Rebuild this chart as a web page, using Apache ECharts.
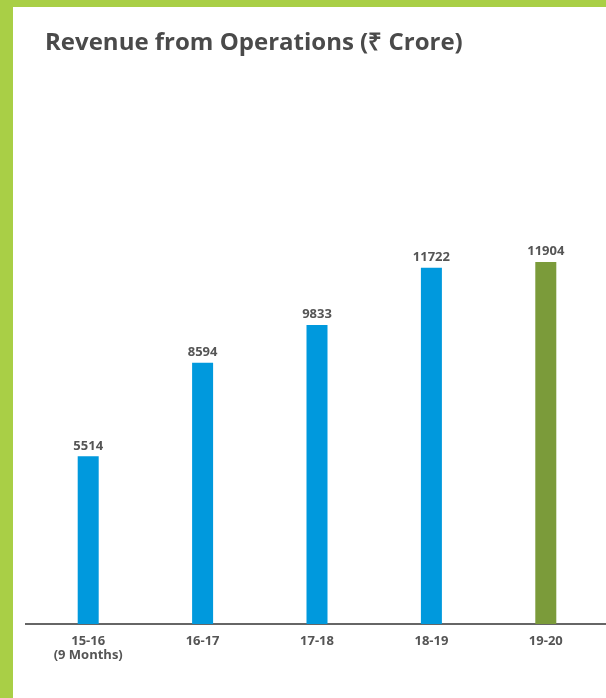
<!DOCTYPE html>
<html><head><meta charset="utf-8">
<script src="https://cdn.jsdelivr.net/npm/echarts@6/dist/echarts.min.js"></script>
<style>html,body{margin:0;padding:0;background:#fff}#c{width:606px;height:698px}</style>
</head><body><div id="c"></div>
<script>
const categories = ['15-16\n(9 Months)', '16-17', '17-18', '18-19', '19-20'];
const revenue = [5514, 8594, 9833, 11722, 11904];
const barColors = ['#0099dd', '#0099dd', '#0099dd', '#0099dd', '#7b9b3a'];
const titleText = 'Revenue from Operations (₹ Crore)';

const chart = echarts.init(document.getElementById('c'));
chart.setOption({
  backgroundColor: '#ffffff',
  animation: false,
  title: {
    text: titleText, left: 40, top: 26,
    textStyle: {fontFamily: 'Open Sans', fontWeight: 'bold', fontSize: 24, color: '#4a4a4a'}
  },
  graphic: [
    {type: 'rect', shape: {x: 0, y: 0, width: 606, height: 7}, style: {fill: '#a9cf46'}, z: 10},
    {type: 'rect', shape: {x: 0, y: 0, width: 13, height: 698}, style: {fill: '#a9cf46'}, z: 10},
    {type: 'rect', shape: {x: 25, y: 623, width: 9, height: 2}, style: {fill: '#666666'}, z: 10},
    {type: 'rect', shape: {x: 600, y: 623, width: 6, height: 2}, style: {fill: '#666666'}, z: 10}
  ],
  grid: {left: 31, right: 3, top: 168, bottom: 74, containLabel: false},
  xAxis: {
    type: 'category', data: categories,
    axisLine: {lineStyle: {color: '#666666', width: 2}},
    axisTick: {show: false},
    axisLabel: {fontFamily: 'Open Sans', fontWeight: 'bold', fontSize: 13, color: '#555555', margin: 10, lineHeight: 14}
  },
  yAxis: {
    type: 'value', min: 0, max: 15000, show: false, splitLine: {show: false}
  },
  series: [{
    type: 'bar', barWidth: 21,
    data: revenue.map((v, i) => ({value: v, itemStyle: {color: barColors[i]}})),
    label: {show: true, position: 'top', distance: 4, fontFamily: 'Open Sans', fontWeight: 'bold', fontSize: 13, color: '#555555'}
  }]
});
</script></body></html>
